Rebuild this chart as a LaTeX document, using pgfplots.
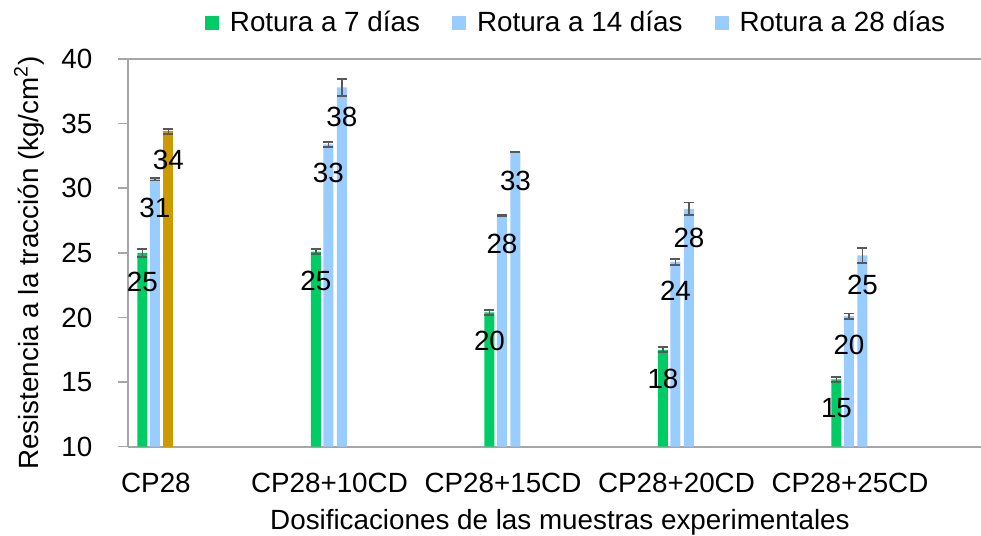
\documentclass[border=0pt]{standalone}
\usepackage{pgfplots}
\pgfplotsset{compat=1.18}
\usepackage{pgfplotstable}
\usepackage{fontspec}
\setmainfont{Liberation Sans}
\definecolor{cgreen}{HTML}{00CC66}
\definecolor{cblue}{HTML}{99CCFF}
\definecolor{cgold}{HTML}{CC9900}
\definecolor{cerr}{HTML}{595959}
\definecolor{caxis}{HTML}{A6A6A6}

\pgfplotstableread{
x y e lab
0 25.0 0.30 25
1 25.1 0.17 25
2 20.4 0.20 20
3 17.5 0.20 18
4 15.2 0.20 15
}\tsiete
\pgfplotstableread{
x y e lab
0 30.7 0.10 31
1 33.4 0.20 33
2 27.9 0.05 28
3 24.3 0.25 24
4 20.1 0.20 20
}\tcatorce
\pgfplotstableread{
x y e lab
1 37.8 0.67 38
2 32.8 0.04 33
3 28.4 0.50 28
4 24.8 0.60 25
}\tveintiocho
\pgfplotstableread{
x y e lab
0 34.4 0.18 34
}\tgold

\begin{document}
\fontsize{13.9pt}{16pt}\selectfont
\begin{tikzpicture}
\begin{axis}[
  scale only axis,
  width=426.5pt, height=193.85pt,
  at={(0,0)}, anchor=south west,
  xmin=-0.161, xmax=4.755,
  ymin=10, ymax=40,
  ybar, bar width=5pt,
  axis x line=bottom, axis y line=left,
  axis line style={caxis, line width=1pt, -},
  xtick={0,1,2,3,4},
  xticklabels={CP28,CP28+10CD,CP28+15CD,CP28+20CD,CP28+25CD},
  xtick style={draw=none},
  ytick={10,15,...,40},
  ytick style={caxis, line width=0.75pt},
  tick align=outside,
  major tick length=5pt,
  /pgf/number format/assume math mode=true,
  tick label style={font=\fontsize{13.9pt}{16pt}\selectfont, text=black},
  yticklabel style={anchor=east, xshift=-8pt},
  xticklabel style={anchor=north, yshift=-3.5pt},
  xlabel={Dosificaciones de las muestras experimentales},
  ylabel={Resistencia a la tracción (kg/cm\textsuperscript{2})},
  xlabel style={at={(axis description cs:0.5064,-0.195)}, anchor=center, font=\fontsize{13.9pt}{16pt}\selectfont},
  ylabel style={at={(axis description cs:-0.116,0.474)}, anchor=center, rotate=0, font=\fontsize{13.9pt}{16pt}\selectfont},
  nodes near coords={\pgfplotspointmeta},
  point meta=explicit symbolic,
  every node near coord/.append style={anchor=center, yshift=-14.5pt, text=black, font=\fontsize{13.9pt}{16pt}\selectfont},
  legend columns=3,
  legend style={draw=none, fill=none, at={(0.5264,1.0929)}, anchor=center,
    font=\fontsize{13.9pt}{16pt}\selectfont,
    /tikz/every odd column/.append style={column sep=3.5pt},
    /tikz/every even column/.append style={column sep=14pt}},
  legend image code/.code={\fill[#1] (0pt,-3.5pt) rectangle (7pt,3.5pt);},
  error bars/y dir=both,
  error bars/y explicit,
  error bars/error bar style={cerr, line width=0.9pt},
  error bars/error mark=-,
  error bars/error mark options={rotate=90, cerr, mark size=2.5pt, line width=0.9pt},
]
\addplot[fill=cgreen, draw=none, bar shift=-6.75pt] table[x=x, y=y, y error=e, meta=lab] {\tsiete};
\addlegendentry{Rotura a 7 días}
\addplot[fill=cblue, draw=none, bar shift=-0.5pt] table[x=x, y=y, y error=e, meta=lab] {\tcatorce};
\addlegendentry{Rotura a 14 días}
\addplot[fill=cblue, draw=none, bar shift=6.25pt] table[x=x, y=y, y error=e, meta=lab] {\tveintiocho};
\addlegendentry{Rotura a 28 días}
\addplot[fill=cgold, draw=none, bar shift=6.25pt, forget plot] table[x=x, y=y, y error=e, meta=lab] {\tgold};
\draw[caxis, line width=1pt] (rel axis cs:0,1) -- (rel axis cs:1,1);
\end{axis}
\pgfresetboundingbox
\useasboundingbox (-64pt,-44.65pt) rectangle (426.5pt,223.35pt);
\end{tikzpicture}
\end{document}
